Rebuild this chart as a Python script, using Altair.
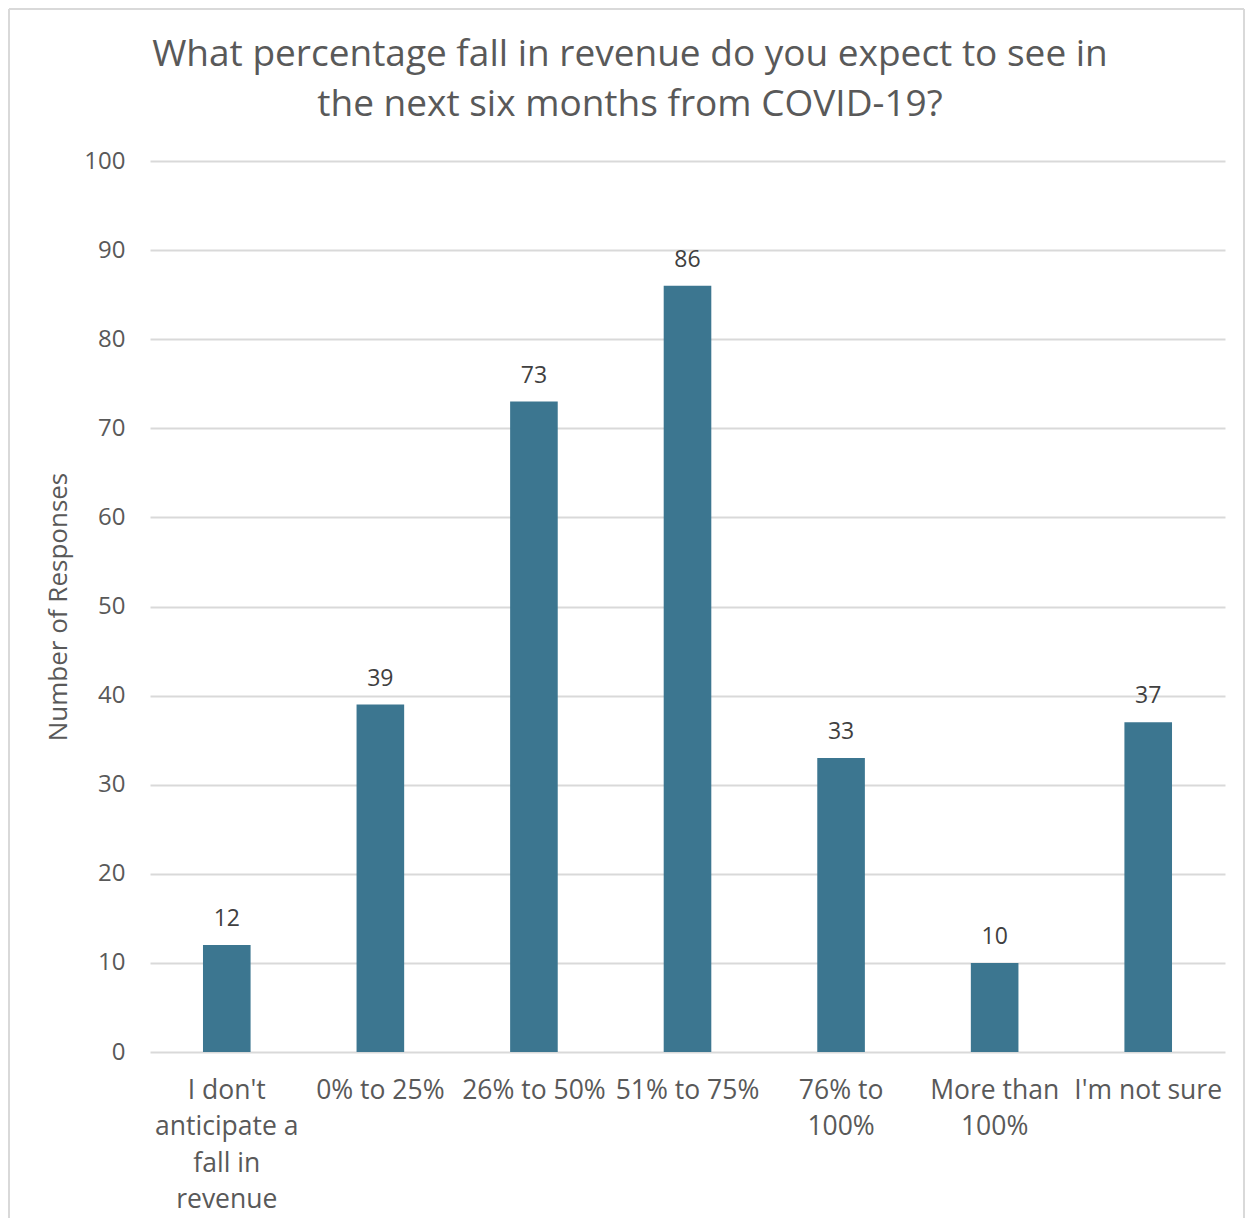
import altair as alt
import pandas as pd

categories = [
    "I don't|anticipate a|fall in|revenue",
    "0% to 25%",
    "26% to 50%",
    "51% to 75%",
    "76% to|100%",
    "More than|100%",
    "I'm not sure",
]
responses = [12, 39, 73, 86, 33, 10, 37]
y_ticks = [0, 10, 20, 30, 40, 50, 60, 70, 80, 90, 100]
title_lines = ["What percentage fall in revenue do you expect to see in",
               "the next six months from COVID-19?"]

df = pd.DataFrame({"cat": categories, "n": responses})
one = pd.DataFrame({"k": [0]})

W, H = 1075, 891
FONT = "Open Sans"
BAR = "#3C7690"

x_enc = alt.X(
    "cat:N",
    sort=categories,
    title=None,
    scale=alt.Scale(paddingInner=0.69, paddingOuter=0.345),
    axis=alt.Axis(
        labelExpr="split(datum.label, '|')",
        labelAngle=0,
        labelFont=FONT,
        labelFontSize=26.5,
        labelColor="#595959",
        labelLineHeight=36.5,
        labelPadding=25,
        labelBaseline="top",
        ticks=False,
        domain=False,
        grid=False,
        labelLimit=300,
    ),
)

y_enc = alt.Y(
    "n:Q",
    title="Number of Responses",
    scale=alt.Scale(domain=[0, 100], nice=False),
    axis=alt.Axis(
        values=y_ticks,
        labelFont=FONT,
        labelFontSize=24,
        labelColor="#595959",
        labelPadding=25,
        ticks=False,
        domain=False,
        gridColor="#d9d9d9",
        gridWidth=2,
        titleFont=FONT,
        titleFontSize=26,
        titleFontWeight="normal",
        titleColor="#595959",
        titlePadding=12,
    ),
)

bars = alt.Chart(df).mark_bar(color=BAR).encode(x=x_enc, y=y_enc)

labels = alt.Chart(df).mark_text(
    font=FONT, fontSize=23, color="#404040", baseline="alphabetic", dy=-19
).encode(x=alt.X("cat:N", sort=categories), y="n:Q", text="n:Q")

frame_top = alt.Chart(one).mark_rule(stroke="#d9d9d9", strokeWidth=2, clip=False).encode(
    x=alt.value(-141), x2=alt.value(W + 19), y=alt.value(-152), y2=alt.value(-152)
)
frame_left = alt.Chart(one).mark_rule(stroke="#d9d9d9", strokeWidth=2, clip=False).encode(
    x=alt.value(-141), x2=alt.value(-141), y=alt.value(-152), y2=alt.value(H + 170)
)
frame_right = alt.Chart(one).mark_rule(stroke="#d9d9d9", strokeWidth=2, clip=False).encode(
    x=alt.value(W + 19), x2=alt.value(W + 19), y=alt.value(-152), y2=alt.value(H + 170)
)

title = alt.Chart(one).mark_text(
    text=title_lines,
    font=FONT,
    fontSize=37,
    color="#595959",
    lineHeight=50,
    align="center",
    baseline="middle",
    clip=False,
).encode(x=alt.value(480), y=alt.value(-106))

chart = (
    alt.layer(frame_top, frame_left, frame_right, title, bars, labels)
    .properties(
        width=W,
        height=H,
        autosize=alt.AutoSizeParams(type="none"),
        padding={"left": 142, "top": 153, "right": 20, "bottom": 166},
    )
    .configure_view(stroke=None)
)

chart.save("out.html", embed_options={"renderer": "svg", "actions": False})
